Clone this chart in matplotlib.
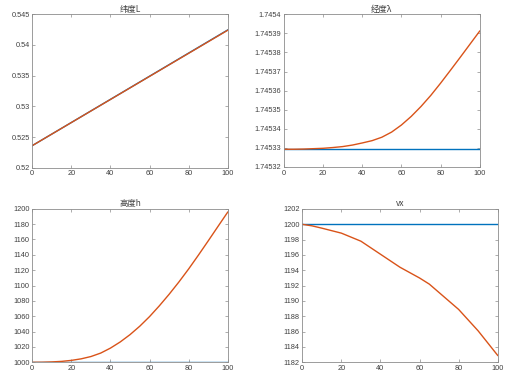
import matplotlib
matplotlib.use("Agg")
import matplotlib.pyplot as plt
from matplotlib.ticker import FuncFormatter

plt.rcParams["font.family"] = ["Liberation Sans", "Noto Sans CJK SC", "DejaVu Sans"]

# values
t = [0, 5, 10, 15, 20, 25, 30, 35, 40, 45, 50, 55, 60, 65, 70, 75, 80, 85, 90, 95, 100]

lat_t = [0, 100]
lat_ref = [0.52360, 0.54245]
lat_est = [0.52360, 0.54240]

lon_ref = [1.7453293] * len(t)
lon_est = [1.7453293, 1.7453293, 1.7453294, 1.7453296, 1.7453298, 1.7453302, 1.7453307,
           1.7453315, 1.7453326, 1.7453338, 1.7453356, 1.7453383, 1.7453420, 1.7453465,
           1.7453517, 1.7453575, 1.7453639, 1.7453706, 1.7453774, 1.7453843, 1.7453912]

h_ref = [1000] * len(t)
h_est = [1000.0, 1000.1, 1000.5, 1001.2, 1002.5, 1004.5, 1007.5, 1012.0, 1018.5, 1026.5,
         1036.0, 1047.0, 1059.5, 1073.5, 1088.5, 1104.5, 1121.5, 1139.5, 1158.0, 1176.8,
         1195.5]

vx_t = [0, 5, 10, 20, 30, 40, 50, 60, 65, 70, 80, 90, 100]
vx_ref = [1200] * len(vx_t)
vx_est = [1200.0, 1199.8, 1199.5, 1198.85, 1197.8, 1196.1, 1194.4, 1193.0, 1192.2,
          1191.1, 1188.9, 1186.1, 1182.9]

titles = ["纬度L", "经度λ", "高度h", "vx"]
xticks = [0, 20, 40, 60, 80, 100]
lat_ticks = [0.52, 0.525, 0.53, 0.535, 0.54, 0.545]
lon_ticks = [1.74532, 1.74533, 1.74534, 1.74535, 1.74536, 1.74537, 1.74538, 1.74539, 1.7454]
h_ticks = list(range(1000, 1201, 20))
vx_ticks = list(range(1182, 1203, 2))

blue = "#0072BD"
orange = "#D95319"
gray = "#8c8c8c"

fig = plt.figure(figsize=(5.22, 3.83), dpi=100)
W, H = 522, 383
boxes = [(32.3, 14.3, 227.7, 167.7), (284, 14.3, 479.7, 167.0),
         (32.3, 208.7, 227.7, 362.3), (302.3, 209, 497.7, 362.3)]

series = [(lat_t, lat_ref, lat_est, lat_ticks), (t, lon_ref, lon_est, lon_ticks),
          (t, h_ref, h_est, h_ticks), (vx_t, vx_ref, vx_est, vx_ticks)]

for (x0, y0, x1, y1), (x, a, b, yt), title in zip(boxes, series, titles):
    ax = fig.add_axes([x0 / W, 1 - y1 / H, (x1 - x0) / W, (y1 - y0) / H])
    ax.plot(x, a, color=blue, lw=1.0)
    ax.plot(x, b, color=orange, lw=1.0)
    ax.set_xlim(0, 100)
    ax.set_ylim(yt[0], yt[-1])
    ax.set_xticks(xticks)
    ax.set_yticks(yt)
    ax.yaxis.set_major_formatter(FuncFormatter(lambda v, p: "%g" % float("%.6g" % v)))
    ax.tick_params(direction="in", length=2.5, width=0.5, labelsize=5.3,
                   colors=gray, labelcolor="#404040", top=True, right=True, pad=2)
    for s in ax.spines.values():
        s.set_color(gray)
        s.set_linewidth(0.6)
    ax.set_title(title, fontsize=6, color="#404040", pad=2,
                 family=["Noto Sans CJK SC", "DejaVu Sans"])

fig.savefig("out.png", dpi=100)
